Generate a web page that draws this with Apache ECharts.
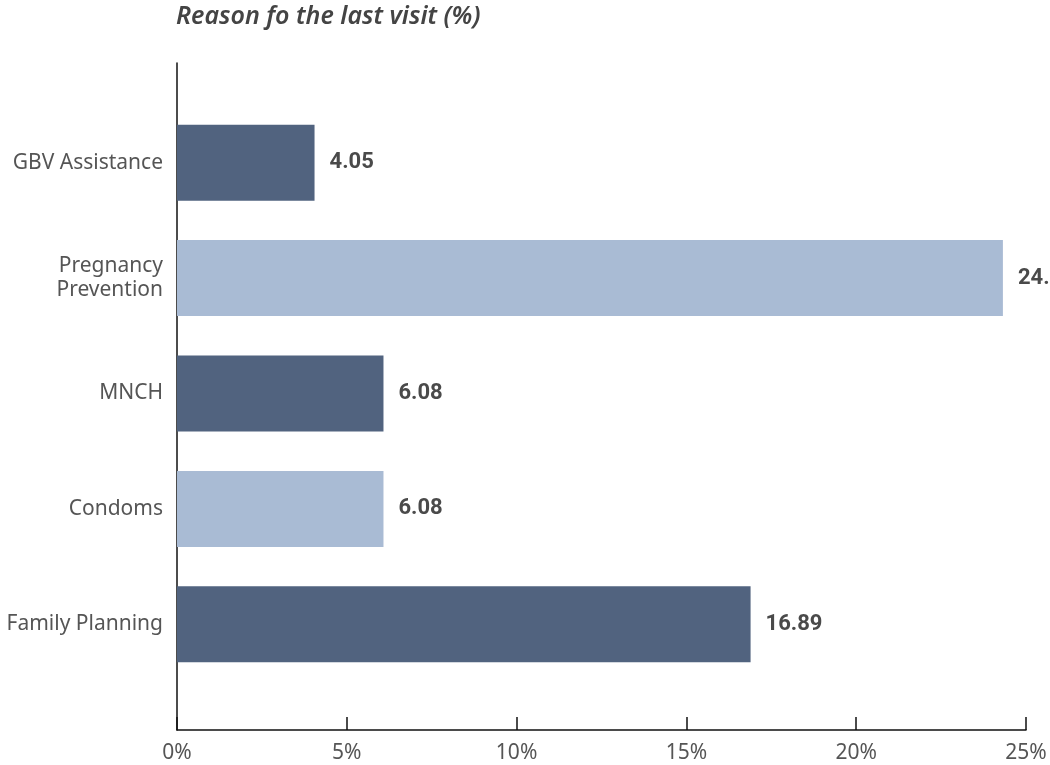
<!DOCTYPE html>
<html>
<head>
<meta charset="utf-8">
<script src="https://cdn.jsdelivr.net/npm/echarts@6/dist/echarts.min.js"></script>
<style>
  html, body { margin: 0; padding: 0; background: #ffffff; }
  #chart { width: 1050px; height: 765px; }
</style>
</head>
<body>
<div id="chart"></div>
<script>
// Reason for the last visit, share of respondents (%)
const categories = ['Family Planning', 'Condoms', 'MNCH', 'Pregnancy\nPrevention', 'GBV Assistance'];
const values = [16.89, 6.08, 6.08, 24.32, 4.05];
const barColors = ['#51637f', '#a9bbd4', '#51637f', '#a9bbd4', '#51637f'];
const xTickValues = [0, 5, 10, 15, 20, 25];
const titleText = 'Reason fo the last visit (%)';

const labelFont = '"Noto Sans", sans-serif';
const valueFont = 'Roboto, "Noto Sans", sans-serif';

const chart = echarts.init(document.getElementById('chart'), null, { renderer: 'canvas' });

const option = {
  backgroundColor: '#ffffff',
  animation: false,
  graphic: [{
    type: 'text',
    left: 176,
    top: 4,
    style: {
      text: titleText,
      font: 'italic 600 25px "Noto Sans", sans-serif',
      fill: '#444444'
    }
  }],
  grid: [
    // frame: the two axis lines
    { left: 177, right: 24, top: 63, bottom: 35 },
    // bars
    { left: 177, right: 24, top: 105, bottom: 83 }
  ],
  xAxis: [
    {
      gridIndex: 0,
      type: 'value',
      min: xTickValues[0],
      max: xTickValues[xTickValues.length - 1],
      interval: xTickValues[1] - xTickValues[0],
      axisLine: { show: true, lineStyle: { color: '#111111', width: 1.5 } },
      axisTick: { show: true, inside: true, length: 13, lineStyle: { color: '#111111', width: 1.5 } },
      splitLine: { show: false },
      axisLabel: {
        formatter: '{value}%',
        fontSize: 21,
        fontFamily: labelFont,
        color: '#555555',
        margin: 13
      }
    },
    {
      gridIndex: 1,
      type: 'value',
      min: xTickValues[0],
      max: xTickValues[xTickValues.length - 1],
      show: false
    }
  ],
  yAxis: [
    {
      gridIndex: 0,
      type: 'value',
      min: 0,
      max: 1,
      axisLine: { show: true, lineStyle: { color: '#111111', width: 1.5 } },
      axisTick: { show: false },
      axisLabel: { show: false },
      splitLine: { show: false }
    },
    {
      gridIndex: 1,
      type: 'category',
      data: categories,
      axisLine: { show: false },
      axisTick: { show: false },
      splitLine: { show: false },
      axisLabel: {
        fontSize: 21,
        fontFamily: labelFont,
        color: '#555555',
        margin: 14,
        lineHeight: 24,
        align: 'right',
        padding: [4, 0, 0, 0]
      }
    }
  ],
  series: [{
    type: 'bar',
    xAxisIndex: 1,
    yAxisIndex: 1,
    barWidth: 76,
    data: values.map((v, i) => ({ value: v, itemStyle: { color: barColors[i] } })),
    label: {
      show: true,
      position: 'right',
      distance: 15,
      padding: [5, 0, 0, 0],
      formatter: (p) => p.value.toFixed(2),
      fontSize: 22,
      fontWeight: 'bold',
      fontFamily: valueFont,
      color: '#4a4a4a'
    }
  }]
};

chart.setOption(option);
</script>
</body>
</html>
